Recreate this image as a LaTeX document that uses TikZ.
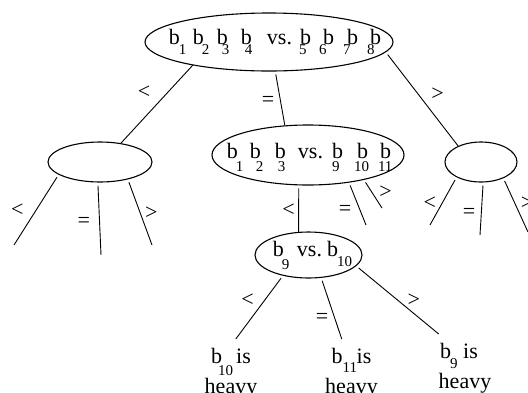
\documentclass[tikz,border=0pt]{standalone}
\usepackage{fontspec}
\setmainfont{Liberation Serif}
\usetikzlibrary{shapes.geometric}
\newcommand\bx[3]{b\rlap{\kern#1pt\raisebox{-#2pt}{\fontsize{15}{15}\selectfont #3}}}

\begin{document}
\begin{tikzpicture}[x=1pt,y=-1pt,font=\fontsize{22}{30}\selectfont,
  weigh/.style={draw,ellipse,line width=1.1pt,inner sep=0pt},
  link/.style={line width=.9pt},
  leg/.style={link,shorten <=3pt},
  sym/.style={inner sep=0pt},
  leaf/.style={align=center,inner sep=0pt,outer sep=0pt,outer ysep=9pt}]
  \useasboundingbox (0,0) rectangle (528,392);
  %weighings
  \node[weigh,name=top,at={(269,42)},minimum width=248pt,minimum height=58pt,label={[xshift=6pt]center:\bx{-1}{10}{1}\hspace{13pt}\bx{-2}{10}{2}\hspace{13pt}\bx{-6}{10}{3}\hspace{13pt}\bx{-7}{10}{4}\hspace{15pt}vs.\hspace{8pt}\bx{-12}{10}{5}\hspace{12pt}\bx{-15}{10}{6}\hspace{13pt}\bx{-15}{10}{7}\hspace{12pt}\bx{-14}{10}{8}}]{};
  \node[weigh,name=lft,at={(100,162)},minimum width=104pt,minimum height=40pt]{};
  \node[weigh,name=mid,at={(308,155)},minimum width=192pt,minimum height=60pt,label={[xshift=1pt,yshift=-2pt]center:\bx{-2}{13}{1}\hspace{12pt}\bx{-5}{13}{2}\hspace{14pt}\bx{-8}{13}{3}\hspace{12pt}vs.\hspace{9pt}\bx{-11}{13}{9}\hspace{14pt}\bx{-14}{13}{10}\hspace{12pt}\bx{-13}{13}{11}}]{};
  \node[weigh,name=rgt,at={(481,162)},minimum width=72pt,minimum height=40pt]{};
  \node[weigh,name=bot,at={(308.5,255)},minimum width=107pt,minimum height=46pt,label={[xshift=-3pt]center:\bx{-2}{13}{9}\hspace{13pt}vs.\hspace{5pt}\bx{-1}{10}{10}}]{};

  %outcomes
  \node[leaf,name=h10,anchor=north,at={(231,339)}]{\bx{-4}{12}{10}\hspace{14pt}is\\heavy};
  \node[leaf,name=h11,anchor=north,at={(351.5,339)}]{\bx{0}{9}{11}\hspace{14pt}is\\heavy};
  \node[leaf,name=h9,anchor=north,at={(465,334)}]{\mbox{\bx{-1}{10}{9}\hspace{12pt}is\hspace{12pt}}\\heavy};

  %top arms
  \draw[link] (top.197) -- node[sym,midway,shift={(-12.7,-12.5)}]{<} (lft.42);
  \draw[leg] (top.282) -- node[sym,midway,shift={(-12,3.5)}]{=} (mid.128);
  \draw[leg] (top.355) -- node[sym,midway,shift={(15.7,-4.6)}]{>} (rgt.145);

  %left
  \coordinate (l1) at (14,245);
  \coordinate (l2) at (101,255);
  \coordinate (l3) at (152,245);
  \draw[leg] (lft.197) -- node[sym,midway,shift={(-18.9,0)}]{<} (l1);
  \draw[leg] (lft.264) -- node[sym,midway,shift={(-15.5,3.5)}]{=} (l2);
  \draw[leg] (lft.328) -- node[sym,midway,shift={(11.4,1)}]{>} (l3);

  %right
  \coordinate (r1) at (430,225);
  \coordinate (r2) at (480,235);
  \coordinate (r3) at (528,232);
  \draw[leg] (rgt.212) -- node[sym,midway,shift={(-13.5,2)}]{<} (r1);
  \draw[leg] (rgt.276) -- node[sym,midway,shift={(-12.5,4.5)}]{=} (r2);
  \draw[leg] (rgt.324) -- node[sym,midway,shift={(11.5,-2)}]{>} (r3);

  %middle
  \coordinate (m2) at (366,225);
  \coordinate (m3) at (382,208);
  \draw[leg] (mid.253) -- node[sym,midway,shift={(-10,1.4)}]{<} (bot.113);
  \draw[leg] (mid.326) -- node[sym,midway,shift={(-12.4,6.5)}]{=} (m2);
  \draw[leg] (mid.336) -- node[sym,midway,shift={(12.6,-1.8)}]{>} (m3);

  %bottom
  \draw[leg] (bot.219) -- node[sym,midway,shift={(-11.7,-7.2)}]{<} (h10.82);
  \draw[leg] (bot.299) -- node[sym,midway,shift={(-9.5,9.8)}]{=} (h11.106);
  \draw[leg] (bot.347) -- node[sym,midway,shift={(16.3,0)}]{>} (h9.north west);
\end{tikzpicture}
\end{document}
